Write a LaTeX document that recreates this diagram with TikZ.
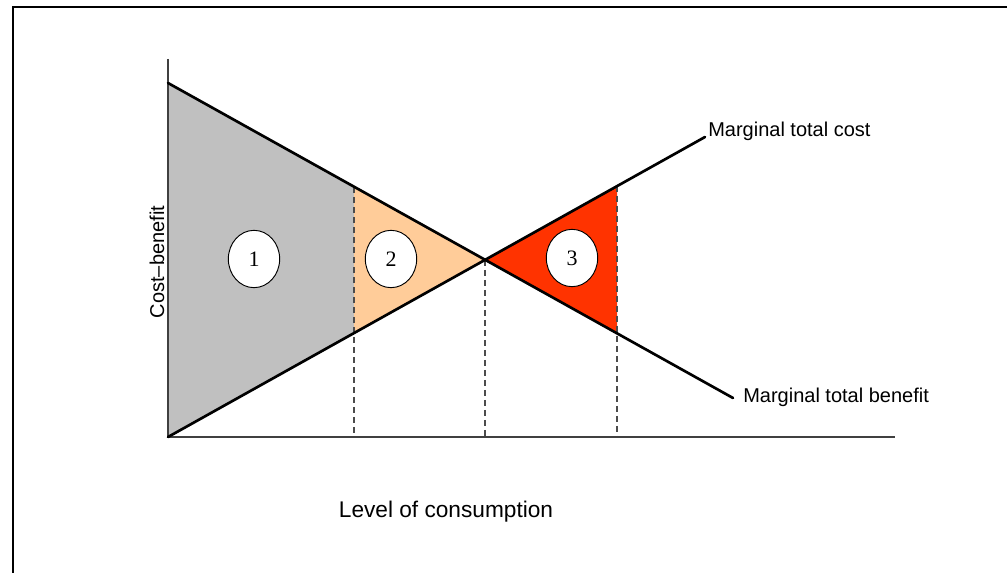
\documentclass[tikz,border=0pt]{standalone}
\usepackage{fontspec}
\setmainfont{Liberation Serif}
\newfontfamily\arialf{Liberation Sans}
\usetikzlibrary{shapes.geometric}
\begin{document}
\begin{tikzpicture}[x=0.75pt,y=-0.75pt,
  frameline/.style={line width=1.5pt, black},
  curve/.style={line width=2pt, black, line cap=round},
  axisline/.style={line width=1.1pt, draw=black!75},
  guide/.style={line width=0.8pt, draw=black!70, dash pattern=on 4.5pt off 3pt},
  badge/.style={ellipse, draw, line width=0.7pt, fill=white, inner sep=0pt,
    minimum width=38.5pt, minimum height=43pt, font=\fontsize{16.5}{18}\selectfont},
  lab/.style={font=\arialf\fontsize{15}{18}\selectfont, inner sep=0pt}
]
\useasboundingbox (0,0) rectangle (1007,573);
% frame
\coordinate (FL) at (13,573);
\coordinate (FC) at (13,7);
\coordinate (FR) at (1010,7);
\draw[frameline] (FL) -- (FC) -- (FR);
% key points
\coordinate (O) at (168,437);
\coordinate (Ytop) at (168,59);
\coordinate (Xend) at (895,437);
\coordinate (B0) at (168,83);
\coordinate (B1) at (354,187);
\coordinate (C1) at (354,333);
\coordinate (E) at (485,260);
\coordinate (C2) at (617,186);
\coordinate (B2) at (617,334);
\coordinate (Bend) at (733,398);
\coordinate (Cend) at (705,137);
\coordinate (D1) at (354,437);
\coordinate (D2) at (485,437);
\coordinate (D3) at (617,437);
% areas
\fill[fill={rgb,255:red,192;green,192;blue,192}] (B0) -- (B1) -- (C1) -- (O) -- cycle;
\fill[fill={rgb,255:red,255;green,204;blue,153}] (B1) -- (E) -- (C1) -- cycle;
\fill[fill={rgb,255:red,255;green,51;blue,0}] (E) -- (C2) -- (B2) -- cycle;
% guides
\draw[guide] (B1) -- (D1);
\draw[guide] (E) -- (D2);
\draw[guide] (C2) -- (D3);
% axes
\draw[axisline] (Ytop) -- (O) -- (Xend);
% curves
\draw[curve] (B0) -- (Bend);
\draw[curve] (O) -- (Cend);
% badges
\node[badge] (n1) at (254,259) {1};
\node[badge] (n2) at (391,259) {2};
\node[badge] (n3) at (572,258) {3};
% labels
\node[lab, anchor=base west] (lc) at (708,137) {Marginal total cost};
\node[lab, anchor=base west] (lb) at (743,403) {Marginal total benefit};
\node[lab, rotate=90] (ly) at (157,262) {Cost–benefit};
\node[lab, font=\arialf\fontsize{17}{20}\selectfont] (lx) at (446,512) {Level of consumption};
\end{tikzpicture}
\end{document}
